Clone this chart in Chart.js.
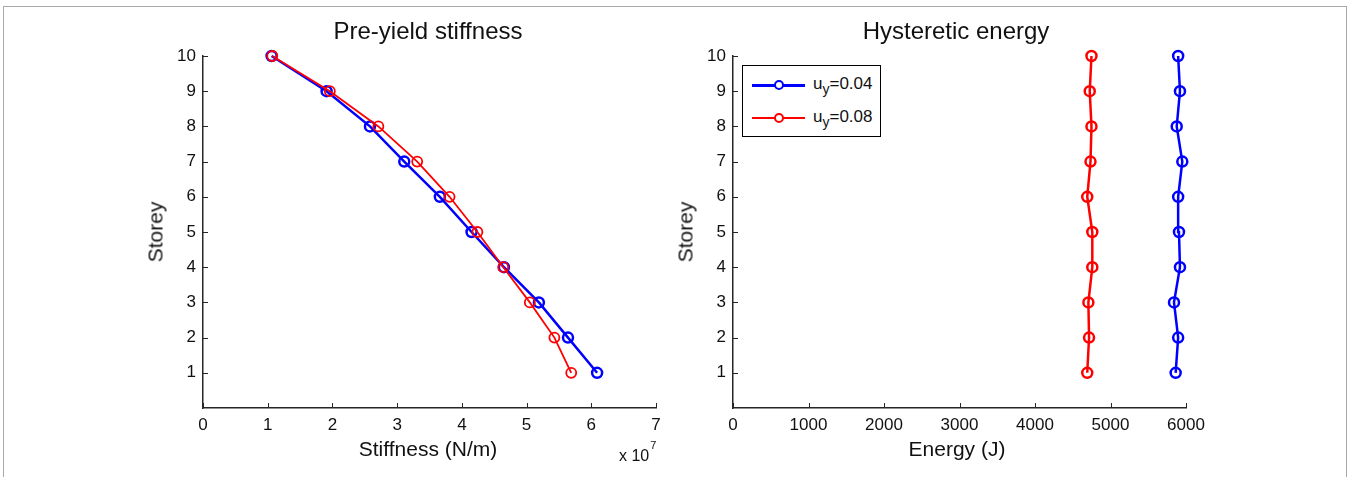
<!DOCTYPE html>
<html lang="en">
<head>
<meta charset="UTF-8">
<title>Pre-yield stiffness / Hysteretic energy</title>
<script src="https://cdn.jsdelivr.net/npm/chart.js"></script>
<style>
    body { margin: 0; background: #fff; font-family: Arial, "Liberation Sans", sans-serif; }
    #page { position: relative; width: 1351px; height: 477px; overflow: hidden; background: #fff; }
    #frame { position: absolute; left: 3px; top: 6px; width: 1344px; height: 520px; border: 1px solid #a8a8a8; box-sizing: border-box; }
    .plot { position: absolute; top: 0; }
    .txt { position: absolute; transform: translate(-50%, -50%); line-height: 1; white-space: nowrap; color: #111; }
    .title { font-size: 24px; }
    .label { font-size: 21px; }
    .ylab { transform: translate(-50%, -50%) rotate(-90deg); }
    #mult { position: absolute; left: 619px; top: 448px; font-size: 16px; line-height: 1; color: #111; white-space: nowrap; }
    #mult span { font-size: 11px; position: relative; top: -12px; margin-left: 1px; }
    #legend { position: absolute; left: 742px; top: 65px; width: 139px; height: 72px; border: 1px solid #000; background: #fff; box-sizing: border-box; }
    .item { position: absolute; left: 0; width: 100%; height: 0; }
    .item .line { position: absolute; left: 9px; width: 53px; top: -1px; height: 2.5px; }
    .item .mark { position: absolute; left: 31px; top: -5px; width: 6px; height: 6px; border: 2px solid; border-radius: 50%; background: #fff; }
    .item .name { position: absolute; left: 70px; top: -10px; font-size: 17px; line-height: 1; color: #111; white-space: nowrap; }
    .item .name sub { font-size: 14px; position: relative; top: 5px; vertical-align: baseline; }
</style>
</head>
<body>
<div id="page">
    <div id="frame"></div>
    <div class="plot" style="left:0px"><canvas id="stiffChart" width="700" height="477"></canvas></div>
    <div class="plot" style="left:700px"><canvas id="energyChart" width="651" height="477"></canvas></div>

    <div class="txt title" style="left:428px; top:31px">Pre-yield stiffness</div>
    <div class="txt title" style="left:956px; top:31px">Hysteretic energy</div>
    <div class="txt label" style="left:428px; top:448px">Stiffness (N/m)</div>
    <div class="txt label" style="left:957px; top:448px">Energy (J)</div>
    <div class="txt label ylab" style="left:155px; top:232px">Storey</div>
    <div class="txt label ylab" style="left:685px; top:232px">Storey</div>
    <div id="mult">x 10<span>7</span></div>
    <div id="legend"></div>
</div>

<script>
    // storeys 1..10
    const storeys = [1, 2, 3, 4, 5, 6, 7, 8, 9, 10];
    // pre-yield stiffness, x 10^7 N/m
    const stiff004 = [6.09, 5.64, 5.19, 4.65, 4.15, 3.66, 3.11, 2.58, 1.91, 1.06];
    const stiff008 = [5.69, 5.43, 5.05, 4.64, 4.24, 3.81, 3.31, 2.71, 1.96, 1.07];
    // hysteretic energy, J
    const energy004 = [5863, 5896, 5841, 5920, 5907, 5896, 5951, 5877, 5920, 5896];
    const energy008 = [4692, 4716, 4707, 4759, 4759, 4692, 4735, 4748, 4725, 4748];

    const yieldDisp = ['0.04', '0.08'];
    const seriesColors = ['#0000ff', '#ff0000'];

    const storeyTicks = [1, 2, 3, 4, 5, 6, 7, 8, 9, 10];
    const stiffTicks = [0, 1, 2, 3, 4, 5, 6, 7];
    const energyTicks = [0, 1000, 2000, 3000, 4000, 5000, 6000];

    const tickFont = { family: 'Arial, "Liberation Sans", sans-serif', size: 17 };
    const axisColor = '#262626';

    // MATLAB style ticks pointing into the plot
    const inwardTicks = {
        id: 'inwardTicks',
        afterDatasetsDraw(chart) {
            const ctx = chart.ctx, a = chart.chartArea;
            const sx = chart.scales.x, sy = chart.scales.y;
            ctx.save();
            ctx.strokeStyle = axisColor;
            ctx.lineWidth = 1;
            ctx.beginPath();
            sx.ticks.forEach(function (t) {
                const px = Math.round(sx.getPixelForValue(t.value)) + 0.5;
                ctx.moveTo(px, a.bottom);
                ctx.lineTo(px, a.bottom - 5);
            });
            sy.ticks.forEach(function (t) {
                const py = Math.round(sy.getPixelForValue(t.value)) + 0.5;
                ctx.moveTo(a.left, py);
                ctx.lineTo(a.left + 5, py);
            });
            ctx.stroke();
            ctx.restore();
        }
    };

    function points(xs) {
        return xs.map(function (v, i) { return { x: v, y: storeys[i] }; });
    }

    function series(xs, i, lw) {
        return {
            label: 'u_y=' + yieldDisp[i],
            data: points(xs),
            showLine: true,
            borderColor: seriesColors[i],
            borderWidth: lw,
            pointStyle: 'circle',
            pointRadius: 5,
            pointBorderWidth: lw,
            pointBorderColor: seriesColors[i],
            pointBackgroundColor: 'rgba(255,255,255,0)',
            order: i == 0 ? 1 : 0,
            clip: false
        };
    }

    function makeChart(id, datasets, xTicks, yAxisWidth, padRight) {
        return new Chart(document.getElementById(id), {
            type: 'scatter',
            data: { datasets: datasets },
            options: {
                responsive: false,
                animation: false,
                devicePixelRatio: 1,
                layout: { padding: { left: 0, top: 56, right: padRight, bottom: 0 } },
                plugins: { legend: { display: false }, tooltip: { enabled: false } },
                scales: {
                    x: {
                        type: 'linear',
                        min: xTicks[0],
                        max: xTicks[xTicks.length - 1],
                        afterBuildTicks: function (s) { s.ticks = xTicks.map(function (v) { return { value: v }; }); },
                        afterFit: function (s) { s.height = 69; },
                        grid: { display: false, drawTicks: false },
                        border: { display: true, color: axisColor, width: 1.5 },
                        ticks: { color: '#111', font: tickFont, padding: 7, maxRotation: 0, autoSkip: false,
                            callback: function (v) { return String(v); } }
                    },
                    y: {
                        type: 'linear',
                        min: 0,
                        max: 10,
                        afterBuildTicks: function (s) { s.ticks = storeyTicks.map(function (v) { return { value: v }; }); },
                        afterFit: function (s) { s.width = yAxisWidth; },
                        grid: { display: false, drawTicks: false },
                        border: { display: true, color: axisColor, width: 1.5 },
                        ticks: { color: '#111', font: tickFont, padding: 7, autoSkip: false,
                            callback: function (v) { return String(v); } }
                    }
                }
            },
            plugins: [inwardTicks]
        });
    }

    const stiffChart = makeChart('stiffChart',
        [series(stiff004, 0, 2.5), series(stiff008, 1, 1.8)], stiffTicks, 203, 44);
    const energyChart = makeChart('energyChart',
        [series(energy004, 0, 2.5), series(energy008, 1, 2.5)], energyTicks, 33, 165);

    // legend with subscript, built from the series
    const legend = document.getElementById('legend');
    yieldDisp.forEach(function (v, i) {
        const item = document.createElement('div');
        item.className = 'item';
        item.style.top = (i == 0 ? 19 : 51.5) + 'px';
        item.innerHTML = '<div class="line" style="background:' + seriesColors[i] + '"></div>' +
            '<div class="mark" style="border-color:' + seriesColors[i] + '"></div>' +
            '<div class="name">u<sub>y</sub>=' + v + '</div>';
        legend.appendChild(item);
    });
</script>
</body>
</html>
